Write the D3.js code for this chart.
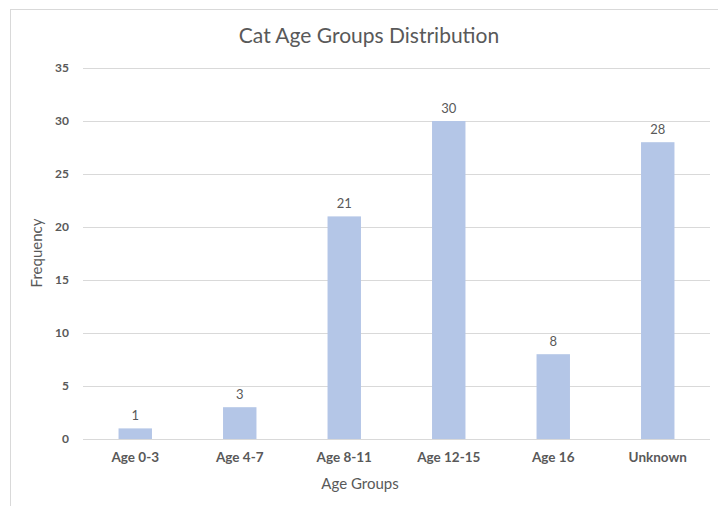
<!DOCTYPE html>
<html lang="en">
<head>
<meta charset="UTF-8">
<title>Cat Age Groups Distribution</title>
<script src="https://d3js.org/d3.v7.min.js"></script>
<style>
    body { margin: 0; background: #fff; overflow: hidden; }
    text { font-family: Lato, "Open Sans", sans-serif; fill: #595959; }
</style>
</head>
<body>
<div id="chart"></div>
<script>
    // data
    var categories = ["Age 0-3", "Age 4-7", "Age 8-11", "Age 12-15", "Age 16", "Unknown"];
    var counts = [1, 3, 21, 30, 8, 28];
    var yTicks = [0, 5, 10, 15, 20, 25, 30, 35];

    var width = 718, height = 506;
    var margin = {top: 68, right: 8, bottom: 67, left: 83};

    var svg = d3.select("#chart").append("svg")
        .attr("width", width)
        .attr("height", height);

    // outer frame (runs off the right and bottom edges)
    svg.append("rect")
        .attr("x", 10.5).attr("y", 9.5)
        .attr("width", 720).attr("height", 510)
        .attr("fill", "none")
        .attr("stroke", "#d9d9d9");

    var x = d3.scaleBand()
        .domain(categories)
        .range([margin.left, width - margin.right])
        .paddingInner(0.68)
        .paddingOuter(0.34);

    var y = d3.scaleLinear()
        .domain([0, 35])
        .range([height - margin.bottom, margin.top]);

    // grid lines
    svg.append("g")
        .selectAll("line")
        .data(yTicks)
        .enter().append("line")
        .attr("x1", margin.left)
        .attr("x2", width - margin.right)
        .attr("y1", d => y(d) + 0.5)
        .attr("y2", d => y(d) + 0.5)
        .attr("stroke", "#d9d9d9")
        .attr("stroke-width", 1);

    // y axis labels
    var yAxis = svg.append("g")
        .attr("transform", "translate(" + (margin.left - 14) + ",0)")
        .call(d3.axisLeft(y).tickValues(yTicks).tickSize(0).tickPadding(0));
    yAxis.select(".domain").remove();
    yAxis.selectAll("text")
        .style("font-size", "12px")
        .style("font-weight", "bold")
        .attr("fill", "#595959");

    // bars
    svg.append("g")
        .selectAll("rect")
        .data(counts)
        .enter().append("rect")
        .attr("x", (d, i) => x(categories[i]))
        .attr("y", d => y(d))
        .attr("width", x.bandwidth())
        .attr("height", d => y(0) - y(d))
        .attr("fill", "#b4c6e7");

    // value labels
    svg.append("g")
        .selectAll("text")
        .data(counts)
        .enter().append("text")
        .attr("x", (d, i) => x(categories[i]) + x.bandwidth() / 2)
        .attr("y", d => y(d) - 8)
        .attr("text-anchor", "middle")
        .style("font-size", "13px")
        .text(d => d);

    // x axis labels
    var xAxis = svg.append("g")
        .attr("transform", "translate(0," + (y(0) + 13) + ")")
        .call(d3.axisBottom(x).tickSize(0).tickPadding(0));
    xAxis.select(".domain").remove();
    xAxis.selectAll("text")
        .style("font-size", "13.5px")
        .style("font-weight", "bold")
        .attr("fill", "#595959");

    // title
    svg.append("text")
        .attr("x", 369)
        .attr("y", 43)
        .attr("text-anchor", "middle")
        .style("font-size", "21px")
        .text("Cat Age Groups Distribution");

    // axis titles
    svg.append("text")
        .attr("x", 360)
        .attr("y", 489)
        .attr("text-anchor", "middle")
        .style("font-size", "15px")
        .text("Age Groups");

    svg.append("text")
        .attr("transform", "translate(42,253) rotate(-90)")
        .attr("text-anchor", "middle")
        .style("font-size", "15px")
        .text("Frequency");
</script>
</body>
</html>
